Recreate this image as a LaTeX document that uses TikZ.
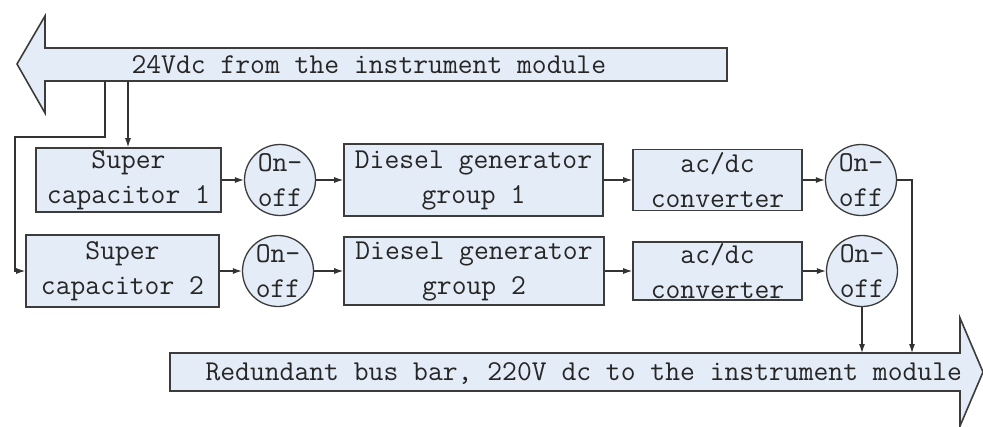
\documentclass[tikz,border=0pt]{standalone}
\usetikzlibrary{arrows.meta}
\definecolor{busblue}{RGB}{228,236,247}
\definecolor{edge}{RGB}{60,60,60}
\tikzset{
  block/.style={draw=edge, line width=1.6pt, fill=busblue, inner sep=0, align=center},
  switch/.style={draw=edge, line width=1.3pt, fill=busblue, circle, inner sep=0, minimum size=71},
  conn/.style={draw=black!80, line width=1.1pt, -{Latex[length=9pt,width=6pt]}},
  bus/.style={draw=edge, line width=1.6pt, fill=busblue},
}
\newcommand{\labfont}{\ttfamily\fontsize{28.8}{35}\selectfont}

\begin{document}
\begin{tikzpicture}[x=1pt, y=-1pt, font=\labfont, text=black!85]
  \useasboundingbox (0,0) rectangle (983,426);
  % the two bus bars
  \draw[bus] (727,48) -- (45,48) -- (45,16) -- (17,64) -- (45,113) -- (45,81)
    -- (727,81) -- cycle;
  \node[anchor=base west] (inlbl) at (128,73) {24Vdc from the instrument module};
  \draw[bus] (170,353) -- (960,353) -- (960,318) -- (983,372) -- (960,426)
    -- (960,391) -- (170,391) -- cycle;
  \node[anchor=base west] (outlbl) at (202,380)
    {Redundant bus bar, 220V dc to the instrument module};

  % line 1
  \node[block, minimum width=185, minimum height=64] (sc1) at (128.5,180) {Super\\capacitor 1};
  \node[switch, label={[align=center]center:{On-\\off}}] (sw1) at (280,180) {};
  \node[block, minimum width=259, minimum height=72] (dg1) at (473.5,180) {Diesel generator\\group 1};
  \node[block, minimum width=169, minimum height=61] (ac1) at (717.5,180) {ac/dc\\converter};
  \node[switch, label={[align=center]center:{On-\\off}}] (sw3) at (861,180) {};
  % line 2
  \node[block, minimum width=193, minimum height=72] (sc2) at (122.5,271) {Super\\capacitor 2};
  \node[switch, label={[align=center]center:{On-\\off}}] (sw2) at (278,271) {};
  \node[block, minimum width=260, minimum height=68] (dg2) at (474,271) {Diesel generator\\group 2};
  \node[block, minimum width=169, minimum height=58] (ac2) at (717.5,271) {ac/dc\\converter};
  \node[switch, label={[align=center]center:{On-\\off}}] (sw4) at (862,271) {};

  \coordinate (tapa) at (105,81);
  \coordinate (tapb) at (128,81);
  \coordinate (tapc) at (912,353);
  \draw[conn] (tapa) -- (105,137) -- (15,137) |- (sc2.west);
  \draw[conn] (tapb) -- (tapb |- sc1.north);
  \foreach \a/\b in {sc1/sw1, sw1/dg1, dg1/ac1, ac1/sw3, sc2/sw2, sw2/dg2, dg2/ac2, ac2/sw4}
    \draw[conn] (\a) -- (\b);
  \draw[conn] (sw3.east) -| (tapc);
  \draw[conn] (sw4.south) -- (sw4.south |- tapc);
\end{tikzpicture}
\end{document}
